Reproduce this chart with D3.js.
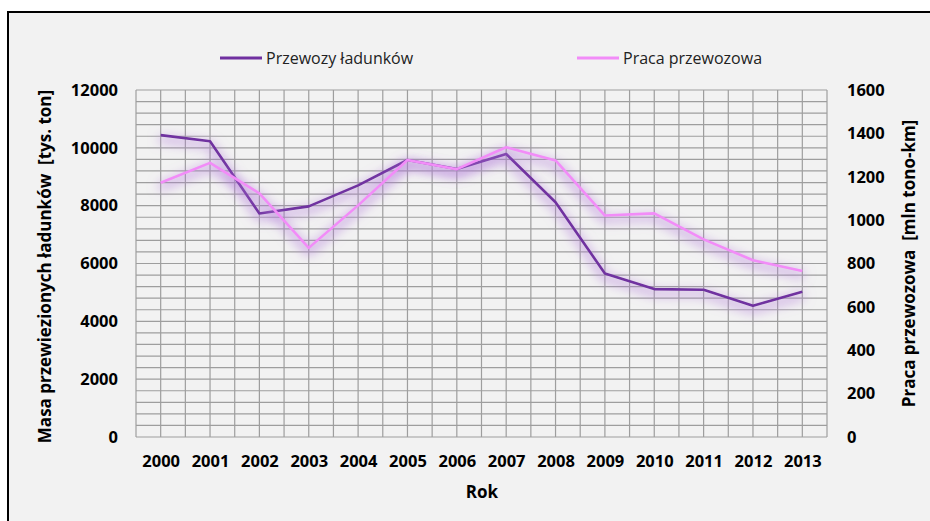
<!DOCTYPE html>
<html>
<head>
<meta charset="utf-8">
<script src="https://cdn.jsdelivr.net/npm/d3@7"></script>
<style>
  body { margin: 0; background: #fff; }
  svg { display: block; font-family: "Open Sans", "Liberation Sans", sans-serif; }
</style>
</head>
<body>
<div id="chart"></div>
<script>
const years = ["2000", "2001", "2002", "2003", "2004", "2005", "2006", "2007", "2008", "2009", "2010", "2011", "2012", "2013"];
// Przewozy ładunków [tys. ton] - left axis
const przewozy = [10440, 10230, 7730, 7975, 8700, 9580, 9265, 9785, 8120, 5655, 5115, 5090, 4540, 5020];
// Praca przewozowa [mln tono-km] - right axis
const praca = [1172, 1264, 1123, 872, 1068, 1277, 1235, 1336, 1275, 1021, 1031, 911, 815, 765];
const leftTicks = [0, 2000, 4000, 6000, 8000, 10000, 12000];
const rightTicks = [0, 200, 400, 600, 800, 1000, 1200, 1400, 1600];

const width = 930, height = 521;
const plot = { left: 136, right: 827, top: 90, bottom: 437 };
const fs = 16.5;

const svg = d3.select("#chart").append("svg")
  .attr("width", width)
  .attr("height", height);

// outer frame
svg.append("rect")
  .attr("x", 8).attr("y", 12)
  .attr("width", width + 10).attr("height", height + 10)
  .attr("fill", "#f2f2f2")
  .attr("stroke", "#000")
  .attr("stroke-width", 2);

const defs = svg.append("defs");
const glow = defs.append("filter")
  .attr("id", "glow")
  .attr("x", "-10%").attr("y", "-40%")
  .attr("width", "120%").attr("height", "180%");
glow.append("feMorphology").attr("in", "SourceAlpha").attr("operator", "dilate").attr("radius", 2).attr("result", "thick");
glow.append("feGaussianBlur").attr("in", "thick").attr("stdDeviation", 5.5).attr("result", "blur");
glow.append("feOffset").attr("in", "blur").attr("dx", 0).attr("dy", 4).attr("result", "off");
glow.append("feFlood").attr("flood-color", "#b07ad8").attr("flood-opacity", 0.55);
glow.append("feComposite").attr("in2", "off").attr("operator", "in").attr("result", "shadow");
const merge = glow.append("feMerge");
merge.append("feMergeNode").attr("in", "shadow");
merge.append("feMergeNode").attr("in", "SourceGraphic");

const x = d3.scalePoint()
  .domain(years)
  .range([plot.left, plot.right])
  .padding(0.5);
const step = x.step();

const yL = d3.scaleLinear().domain([0, 12000]).range([plot.bottom, plot.top]);
const yR = d3.scaleLinear().domain([0, 1600]).range([plot.bottom, plot.top]);

// grid
const grid = svg.append("g").attr("stroke", "#9e9e9e").attr("stroke-width", 1.2).attr("fill", "none");
const hLines = d3.range(0, 12001, 400);
grid.selectAll("line.h")
  .data(hLines)
  .join("line")
  .attr("class", "h")
  .attr("x1", plot.left).attr("x2", plot.right)
  .attr("y1", (d) => yL(d)).attr("y2", (d) => yL(d));
const vLines = d3.range(0, years.length * 2 + 1).map((i) => plot.left + (i * step) / 2);
grid.selectAll("line.v")
  .data(vLines)
  .join("line")
  .attr("class", "v")
  .attr("x1", (d) => d).attr("x2", (d) => d)
  .attr("y1", plot.top).attr("y2", plot.bottom);

// axes
const gl = svg.append("g")
  .attr("transform", `translate(${plot.left - 18},0)`)
  .call(d3.axisLeft(yL).tickValues(leftTicks).tickSize(0).tickPadding(0).tickFormat(d3.format("d")))
  .attr("font-size", null).attr("font-family", null)
  .call((g) => g.select(".domain").remove());
gl.selectAll("text").attr("font-size", fs).attr("font-weight", "bold").attr("fill", "#000");

const gr = svg.append("g")
  .attr("transform", `translate(${plot.right + 20},0)`)
  .call(d3.axisRight(yR).tickValues(rightTicks).tickSize(0).tickPadding(0).tickFormat(d3.format("d")))
  .attr("font-size", null).attr("font-family", null)
  .call((g) => g.select(".domain").remove());
gr.selectAll("text").attr("font-size", fs).attr("font-weight", "bold").attr("fill", "#000");

const gx = svg.append("g")
  .attr("transform", `translate(0,${plot.bottom})`)
  .call(d3.axisBottom(x).tickSize(0).tickPadding(18))
  .attr("font-size", null).attr("font-family", null)
  .call((g) => g.select(".domain").remove());
gx.selectAll("text").attr("font-size", fs).attr("font-weight", "bold").attr("fill", "#000");

// axis titles
svg.append("text")
  .attr("transform", `translate(51,${(plot.top + plot.bottom) / 2 + 3}) rotate(-90)`)
  .attr("text-anchor", "middle")
  .attr("font-size", 17).attr("font-weight", "bold")
  .attr("xml:space", "preserve")
  .text("Masa przewiezionych ładunków  [tys. ton]");
svg.append("text")
  .attr("transform", `translate(915,${(plot.top + plot.bottom) / 2}) rotate(-90)`)
  .attr("text-anchor", "middle")
  .attr("font-size", 17).attr("font-weight", "bold")
  .attr("xml:space", "preserve")
  .text("Praca przewozowa  [mln tono-km]");
svg.append("text")
  .attr("x", 482).attr("y", 498)
  .attr("text-anchor", "middle")
  .attr("font-size", 17).attr("font-weight", "bold")
  .text("Rok");

// lines
const series = [
  { name: "Przewozy ładunków", values: przewozy, y: yL, color: "#7030a0" },
  { name: "Praca przewozowa", values: praca, y: yR, color: "#f28cf8" },
];
series.forEach((s) => {
  svg.append("path")
    .datum(s.values)
    .attr("fill", "none")
    .attr("stroke", s.color)
    .attr("stroke-width", 2.6)
    .attr("stroke-linejoin", "round")
    .attr("filter", "url(#glow)")
    .attr("d", d3.line().x((d, i) => x(years[i])).y((d) => s.y(d)));
});

// legend
const legendX = [220, 577];
series.forEach((s, i) => {
  const lg = svg.append("g").attr("transform", `translate(${legendX[i]},58)`);
  lg.append("line")
    .attr("x1", 0).attr("x2", 42)
    .attr("stroke", s.color).attr("stroke-width", 3);
  lg.append("text")
    .attr("x", 46).attr("y", 5.5)
    .attr("font-size", 16)
    .attr("fill", "#222")
    .text(s.name);
});
</script>
</body>
</html>
